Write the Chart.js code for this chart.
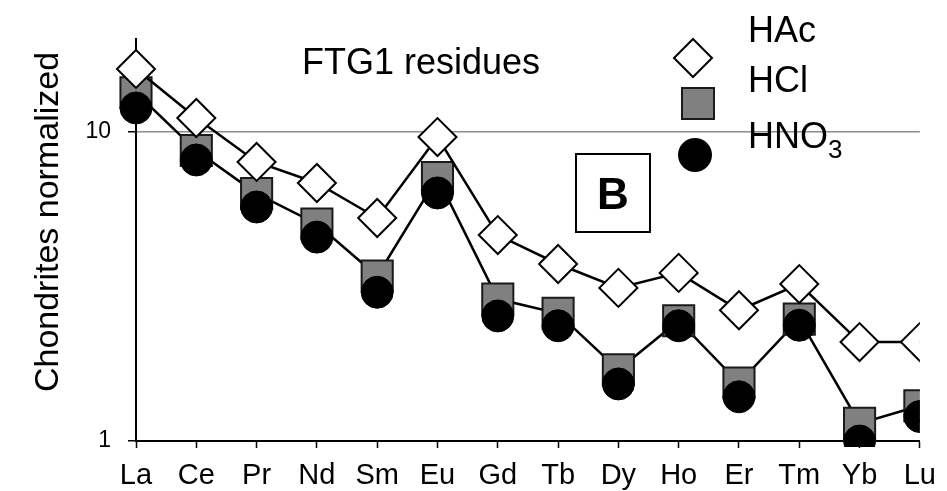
<!DOCTYPE html>
<html>
<head>
<meta charset="utf-8">
<script src="https://cdn.jsdelivr.net/npm/chart.js@4/dist/chart.umd.min.js"></script>
<style>
  html, body { margin: 0; padding: 0; background: #fff; }
  #wrap { width: 947px; height: 491px; }
</style>
</head>
<body>
<div id="wrap"><canvas id="c" width="947" height="491"></canvas></div>
<script>
const categories = ['La','Ce','Pr','Nd','Sm','Eu','Gd','Tb','Dy','Ho','Er','Tm','Yb','Lu'];
const hacValues  = [16.0, 11.1, 8.0, 6.84, 5.27, 9.63, 4.64, 3.74, 3.13, 3.50, 2.65, 3.22, 2.09, 2.09];
const hclValues  = [13.4, 8.71, 6.32, 5.04, 3.42, 7.12, 2.88, 2.59, 1.70, 2.45, 1.54, 2.48, 1.14, 1.30];
const hno3Values = [11.96, 8.12, 5.72, 4.57, 3.03, 6.35, 2.54, 2.36, 1.53, 2.36, 1.39, 2.37, 1.00, 1.20];
const yTickValues = [1, 10];
const seriesNames = ['HAc', 'HCl', 'HNO3'];
const chartTitle = 'FTG1 residues';
const panelLabel = 'B';
const yTitle = 'Chondrites normalized';

const FONT = "'Liberation Sans', Arial, sans-serif";
const clipArea = { left: 30, top: 30, right: 0, bottom: 6 };

const overlay = {
  id: 'overlay',
  afterDraw(chart) {
    const ctx = chart.ctx;
    ctx.save();
    ctx.fillStyle = '#000';
    ctx.textBaseline = 'alphabetic';

    // Y axis title
    ctx.save();
    ctx.translate(58, 222);
    ctx.rotate(-Math.PI / 2);
    ctx.font = "34px " + FONT;
    ctx.textAlign = 'center';
    ctx.fillText(yTitle, 0, 0);
    ctx.restore();

    // Title
    ctx.font = "36px " + FONT;
    ctx.textAlign = 'center';
    ctx.fillText(chartTitle, 421, 74);

    // Legend markers
    ctx.lineWidth = 2;
    ctx.strokeStyle = '#000';
    ctx.beginPath();
    ctx.moveTo(693, 39); ctx.lineTo(712, 58); ctx.lineTo(693, 77); ctx.lineTo(674, 58); ctx.closePath();
    ctx.fillStyle = '#fff'; ctx.fill(); ctx.stroke();
    ctx.fillStyle = '#808080';
    ctx.fillRect(682, 88, 32, 31);
    ctx.strokeStyle = '#1a1a1a';
    ctx.strokeRect(682, 88, 32, 31);
    ctx.beginPath();
    ctx.arc(695, 155, 17, 0, Math.PI * 2);
    ctx.fillStyle = '#000'; ctx.fill();

    // Legend text
    ctx.fillStyle = '#000';
    ctx.textAlign = 'left';
    ctx.font = "36px " + FONT;
    ctx.fillText(seriesNames[0], 748, 42);
    ctx.fillText(seriesNames[1], 748, 92);
    const hno = 'HNO';
    ctx.fillText(hno, 748, 148);
    const w = ctx.measureText(hno).width;
    ctx.font = "26px " + FONT;
    ctx.fillText('3', 748 + w, 158);

    // Panel label box
    ctx.lineWidth = 2;
    ctx.strokeStyle = '#000';
    ctx.fillStyle = '#fff';
    ctx.fillRect(576, 154, 74, 78);
    ctx.strokeRect(576, 154, 74, 78);
    ctx.fillStyle = '#000';
    ctx.font = "bold 44px " + FONT;
    ctx.textAlign = 'center';
    ctx.fillText(panelLabel, 613, 209);
    ctx.restore();
  }
};

new Chart(document.getElementById('c'), {
  type: 'line',
  data: {
    labels: categories,
    datasets: [
      {
        label: seriesNames[0],
        data: hacValues,
        order: 0,
        borderColor: '#000',
        borderWidth: 2.5,
        pointStyle: 'rectRot',
        pointRadius: 19,
        pointBackgroundColor: '#fff',
        pointBorderColor: '#000',
        pointBorderWidth: 2,
        fill: false,
        tension: 0,
        clip: clipArea
      },
      {
        label: seriesNames[2],
        data: hno3Values,
        order: 1,
        showLine: false,
        pointStyle: 'circle',
        pointRadius: 16,
        pointBackgroundColor: '#000',
        pointBorderColor: '#000',
        pointBorderWidth: 1,
        clip: clipArea
      },
      {
        label: seriesNames[1],
        data: hclValues,
        order: 2,
        borderColor: '#000',
        borderWidth: 2.5,
        pointStyle: 'rect',
        pointRadius: 22,
        pointBackgroundColor: '#808080',
        pointBorderColor: '#1a1a1a',
        pointBorderWidth: 2,
        fill: false,
        tension: 0,
        clip: clipArea
      }
    ]
  },
  options: {
    responsive: false,
    animation: false,
    events: [],
    layout: { padding: { top: 39, right: 17, left: 0, bottom: 0 } },
    plugins: {
      legend: { display: false },
      tooltip: { enabled: false },
      title: { display: false }
    },
    scales: {
      x: {
        type: 'category',
        offset: false,
        grid: { drawOnChartArea: false, drawTicks: true, tickLength: 7, tickColor: '#000', tickWidth: 1.5 },
        border: { color: '#000', width: 2 },
        ticks: { color: '#000', font: { family: FONT, size: 29 }, padding: 11, maxRotation: 0, autoSkip: false },
        afterFit(s) { s.height = 50; }
      },
      y: {
        type: 'logarithmic',
        min: 1,
        max: 20,
        afterBuildTicks(s) { s.ticks = yTickValues.map(v => ({ value: v })); },
        grid: {
          color: c => (c.tick && c.tick.value === 10) ? '#8c8c8c' : 'rgba(0,0,0,0)',
          lineWidth: 1.5,
          drawTicks: true,
          tickLength: 8,
          tickColor: '#000',
          tickWidth: 1.5
        },
        border: { color: '#000', width: 2 },
        ticks: { color: '#000', font: { family: FONT, size: 23 }, padding: 17, callback: v => String(v) },
        title: { display: false, text: yTitle },
        afterFit(s) { s.width = 136; }
      }
    }
  },
  plugins: [overlay]
});
</script>
</body>
</html>
